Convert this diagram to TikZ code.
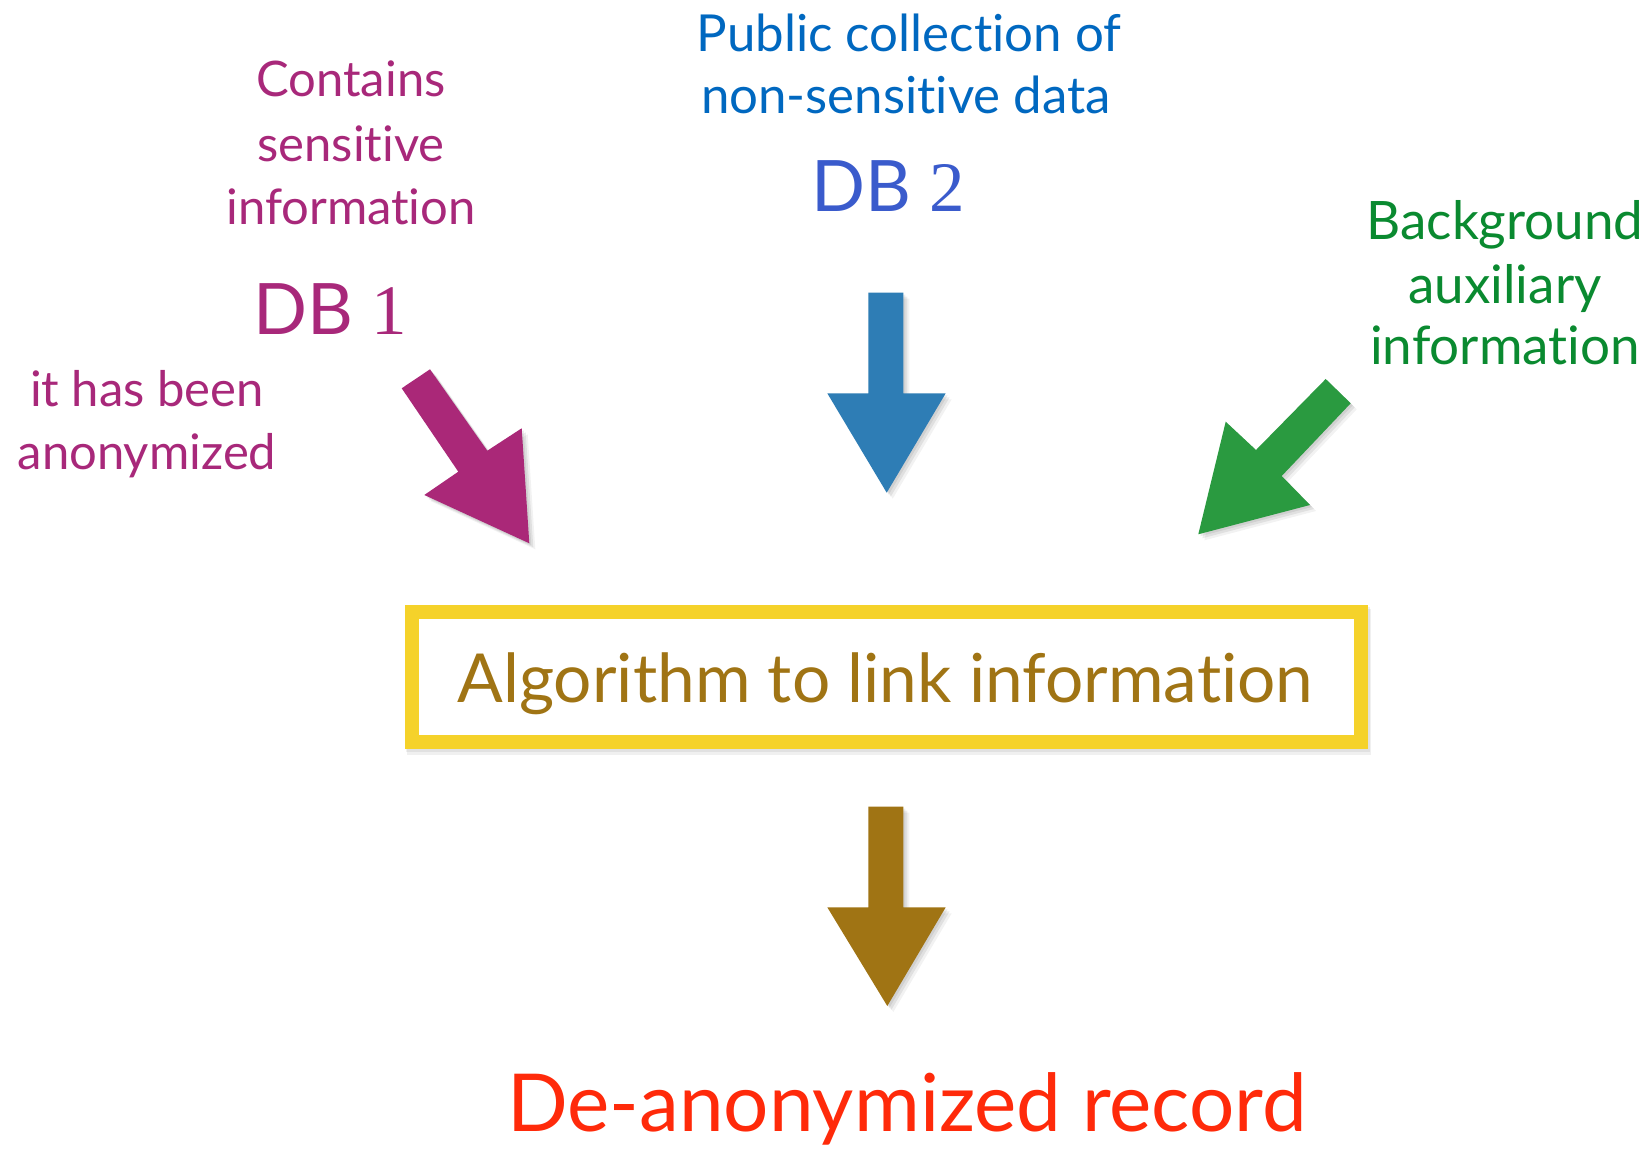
\documentclass[tikz,border=0pt]{standalone}
\usepackage{fontspec}
\setmainfont{Lato}[Ligatures=NoCommon]
\newfontfamily\digitfont{Liberation Serif}
\definecolor{plum}{RGB}{168,40,122}
\definecolor{plumarrow}{RGB}{170,40,120}
\definecolor{pubblue}{RGB}{0,104,192}
\definecolor{dbblue}{RGB}{58,91,204}
\definecolor{arrowblue}{RGB}{46,125,181}
\definecolor{bggreen}{RGB}{10,138,48}
\definecolor{arrowgreen}{RGB}{42,154,64}
\definecolor{ochre}{RGB}{160,116,20}
\definecolor{boxyellow}{RGB}{245,210,42}
\definecolor{recred}{RGB}{255,42,10}
\tikzset{
  txt/.style={anchor=base, inner sep=0pt, outer sep=0pt},
  small/.style={font=\fontsize{24.5pt}{24.5pt}\selectfont},
  big/.style={font=\fontsize{35.5pt}{35.5pt}\selectfont},
  softshadow/.style={
    preaction={fill=black, opacity=0.07, transform canvas={shift={(2,2)}}},
    preaction={fill=black, opacity=0.07, transform canvas={shift={(4,4)}}},
    preaction={fill=black, opacity=0.05, transform canvas={shift={(6,6)}}}},
  blockarrow/.style={softshadow, draw=none}
}
\begin{document}
\begin{tikzpicture}[x=0.5pt, y=-0.5pt]
\useasboundingbox (0,0) rectangle (1650,1149);
\fill[white] (0,0) rectangle (1650,1149);

% DB 1 annotations
\node[txt, small, text=plum] (c1) at (351,96.7) {Contains};
\node[txt, small, text=plum] (c2) at (351,161.7) {sensitive};
\node[txt, small, text=plum] (c3) at (351,225) {information};
\node[txt, big, text=plum] (db1) at (330,335) {DB {\digitfont 1}};
\node[txt, small, text=plum] (a1) at (147,407) {it has been};
\node[txt, small, text=plum] (a2) at (147,470) {anonymized};

% DB 2 annotations
\node[txt, font=\fontsize{25.5pt}{25.5pt}\selectfont, text=pubblue] (p1) at (909,51.7) {Public collection of};
\node[txt, font=\fontsize{25.5pt}{25.5pt}\selectfont, text=pubblue] (p2) at (906,113.3) {non-sensitive data};
\node[txt, big, text=dbblue] (db2) at (888,211.7) {DB {\digitfont 2}};

% auxiliary information
\node[txt, font=\fontsize{26.5pt}{26.5pt}\selectfont, text=bggreen] (g1) at (1505,240) {Background};
\node[txt, font=\fontsize{26.5pt}{26.5pt}\selectfont, text=bggreen] (g2) at (1505,303.3) {auxiliary};
\node[txt, font=\fontsize{26.5pt}{26.5pt}\selectfont, text=bggreen] (g3) at (1505,365) {information};

% incoming block arrows
\fill[blockarrow, plumarrow] (401.7,388.3) -- (430,369.3) -- (487.3,450.7) -- (521.7,428.3)
  -- (529.3,543.3) -- (424.3,495) -- (458.3,471.7) -- cycle;
\fill[blockarrow, arrowblue] (868.3,292.7) -- (903.3,292.7) -- (903.3,393.3) -- (945.7,393.3)
  -- (886.7,492.7) -- (827.3,393.3) -- (868.3,393.3) -- cycle;
\fill[blockarrow, arrowgreen] (1325.7,379) -- (1350.7,403.3) -- (1281.7,476) -- (1310,505)
  -- (1198.3,534.3) -- (1225.7,421.7) -- (1256,450) -- cycle;

% linking algorithm box with a soft shadow below it
\fill[black, opacity=0.06] (407,609) rectangle (1371,755);
\fill[black, opacity=0.06] (406,607) rectangle (1370,752);
\node[draw=boxyellow, fill=white, line width=7pt, minimum width=474.5pt, minimum height=65pt,
      inner sep=0pt] (box) at (886.5,677) {};
\node[txt, font=\fontsize{33.8pt}{33.8pt}\selectfont, text=ochre] (algo) at (885.5,703) {Algorithm to link information};

% outgoing block arrow
\fill[blockarrow, ochre] (868.3,806.7) -- (903.3,806.7) -- (903.3,907.3) -- (945.7,907.3)
  -- (887.3,1006) -- (827.3,907.3) -- (868.3,907.3) -- cycle;

% result
\node[txt, font=\fontsize{40pt}{40pt}\selectfont, text=recred] (result) at (907,1131) {De-anonymized record};
\end{tikzpicture}
\end{document}
